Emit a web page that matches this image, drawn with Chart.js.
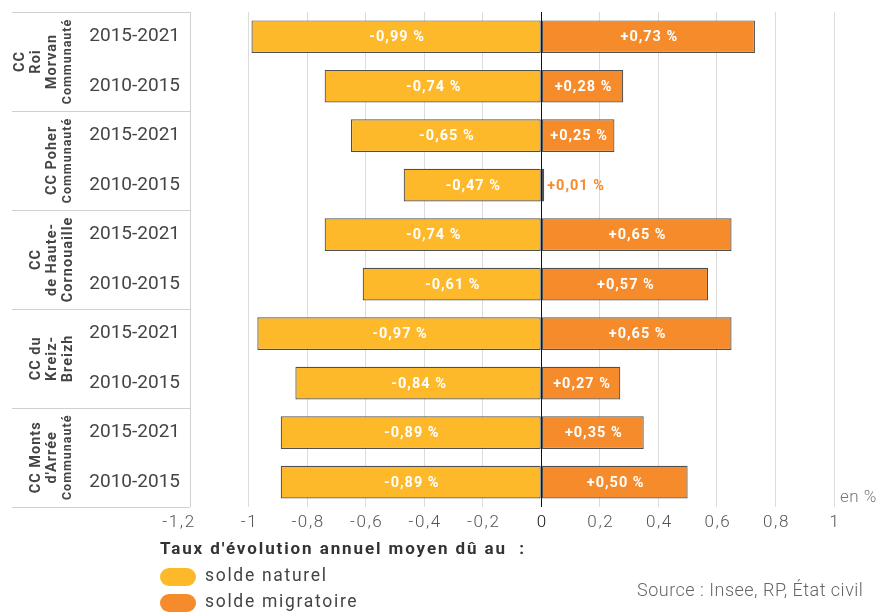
<!DOCTYPE html>
<html>
<head>
<meta charset="utf-8">
<script src="https://cdn.jsdelivr.net/npm/chart.js@4"></script>
<style>
  html, body { margin: 0; padding: 0; background: #fff; }
  #wrap { width: 880px; height: 614px; }
</style>
</head>
<body>
<div id="wrap"><canvas id="evolChart" width="880" height="614"></canvas></div>
<script>
// periods, one row each, grouped two by two per territory
const periods = ['2015-2021', '2010-2015', '2015-2021', '2010-2015', '2015-2021',
  '2010-2015', '2015-2021', '2010-2015', '2015-2021', '2010-2015'];
// '*' marks the small second-level line
const groups = [
  ['CC', 'Roi', 'Morvan', '*Communauté'],
  ['CC Poher', '*Communauté'],
  ['CC', 'de Haute-', 'Cornouaille'],
  ['CC du', 'Kreiz-', 'Breizh'],
  ['CC Monts', "d'Arrée", '*Communauté'],
];
const soldeNaturel = [-0.99, -0.74, -0.65, -0.47, -0.74, -0.61, -0.97, -0.84, -0.89, -0.89];
const soldeMigratoire = [0.73, 0.28, 0.25, 0.01, 0.65, 0.57, 0.65, 0.27, 0.35, 0.50];
const xTicks = [-1.2, -1, -0.8, -0.6, -0.4, -0.2, 0, 0.2, 0.4, 0.6, 0.8, 1];

const YELLOW = '#FDB92A';
const ORANGE = '#F68B2B';
const FONT = 'Roboto';

function fmt(v) {
  const s = Math.abs(v).toFixed(2).replace('.', ',');
  return (v < 0 ? '-' : '+') + s + ' %';
}

function spaced(ctx, px) {
  if ('letterSpacing' in ctx) ctx.letterSpacing = px + 'px';
}

const barLabels = {
  id: 'barLabels',
  afterDatasetsDraw(chart) {
    const ctx = chart.ctx;
    ctx.save();
    ctx.font = 'bold 14.5px ' + FONT;
    spaced(ctx, 1);
    ctx.textBaseline = 'middle';
    chart.data.datasets.forEach((ds, di) => {
      const meta = chart.getDatasetMeta(di);
      meta.data.forEach((el, i) => {
        const { x, y, base } = el.getProps(['x', 'y', 'base'], true);
        const w = Math.abs(x - base);
        if (w < 30) {
          ctx.fillStyle = ds.backgroundColor;
          ctx.textAlign = 'left';
          ctx.fillText(fmt(ds.data[i]), Math.max(x, base) + 3, y + 1);
        } else {
          ctx.fillStyle = '#fff';
          ctx.textAlign = 'center';
          ctx.fillText(fmt(ds.data[i]), (x + base) / 2 + 1, y + 1);
        }
      });
    });
    ctx.restore();
  }
};

const decor = {
  id: 'decor',
  afterDraw(chart) {
    const ctx = chart.ctx;
    const area = chart.chartArea;
    const xScale = chart.scales.x;
    const rowH = (area.bottom - area.top) / periods.length;
    ctx.save();
    // table lines on the left
    ctx.strokeStyle = '#d0d0d0';
    ctx.lineWidth = 1;
    for (let g = 0; g <= groups.length; g++) {
      const yy = Math.round(area.top + g * rowH * 2) + 0.5;
      ctx.beginPath();
      ctx.moveTo(12, yy);
      ctx.lineTo(area.left, yy);
      ctx.stroke();
    }
    // group names, rotated; last line sits at x = 67
    groups.forEach((lines, g) => {
      const cy = area.top + (g * 2 + 1) * rowH;
      ctx.save();
      ctx.translate(0, cy);
      ctx.rotate(-Math.PI / 2);
      ctx.fillStyle = '#444';
      ctx.textAlign = 'center';
      ctx.textBaseline = 'middle';
      const n = lines.length;
      lines.forEach((l, k) => {
        const small = l[0] === '*';
        ctx.font = 'bold ' + (small ? 12.5 : 14.5) + 'px ' + FONT;
        spaced(ctx, 1);
        const pos = 67 - (n - 1 - k) * 16;
        ctx.fillText(l.replace('*', ''), 0, pos + 1);
      });
      ctx.restore();
    });
    // x tick labels
    ctx.textAlign = 'center';
    ctx.textBaseline = 'middle';
    ctx.font = '300 17px ' + FONT;
    spaced(ctx, 1.6);
    xTicks.forEach((v, i) => {
      ctx.fillStyle = v === 0 ? '#111' : '#555';
      const label = String(v).replace('.', ',');
      const shift = i === 0 ? -12 : 0;
      ctx.fillText(label, xScale.getPixelForValue(v) + 1 + shift, area.bottom + 16);
    });
    // unit
    ctx.fillStyle = '#777';
    ctx.font = '300 17px ' + FONT;
    spaced(ctx, 0.5);
    ctx.textAlign = 'left';
    ctx.fillText('en %', area.right + 6, area.bottom - 9);
    // title + legend
    ctx.fillStyle = '#333';
    ctx.font = 'bold 17px ' + FONT;
    spaced(ctx, 1.9);
    ctx.fillText("Taux d'évolution annuel moyen dû au  :", 160, 550);
    chart.data.datasets.forEach((ds, di) => {
      const ly = 577 + di * 26;
      ctx.fillStyle = ds.backgroundColor;
      ctx.beginPath();
      ctx.roundRect(160, ly - 9, 36, 18, 9);
      ctx.fill();
      ctx.fillStyle = '#444';
      ctx.font = '17.5px ' + FONT;
      spaced(ctx, 1.7);
      ctx.fillText(ds.label, 205, ly);
    });
    ctx.fillStyle = '#666';
    ctx.font = '300 18px ' + FONT;
    spaced(ctx, 0.5);
    ctx.textAlign = 'left';
    ctx.fillText('Source : Insee, RP, État civil', 637, 591);
    ctx.restore();
  }
};

const ctx = document.getElementById('evolChart').getContext('2d');
new Chart(ctx, {
  type: 'bar',
  data: {
    labels: periods,
    datasets: [
      {
        label: 'solde naturel',
        data: soldeNaturel,
        backgroundColor: YELLOW,
        borderColor: '#505050',
        borderWidth: 1.2,
        borderSkipped: false,
        barPercentage: 0.66,
        categoryPercentage: 1,
      },
      {
        label: 'solde migratoire',
        data: soldeMigratoire,
        backgroundColor: ORANGE,
        borderColor: '#505050',
        borderWidth: 1.2,
        borderSkipped: false,
        barPercentage: 0.66,
        categoryPercentage: 1,
      },
    ],
  },
  options: {
    indexAxis: 'y',
    responsive: false,
    animation: false,
    layout: { padding: { top: 12, right: 46, bottom: 72, left: 0 } },
    plugins: {
      legend: { display: false },
      tooltip: { enabled: false },
    },
    scales: {
      x: {
        stacked: true,
        min: -1.2,
        max: 1,
        afterBuildTicks: scale => { scale.ticks = xTicks.map(v => ({ value: v })); },
        grid: {
          color: c => c.tick && c.tick.value === 0 ? '#111' : '#dcdcdc',
          drawTicks: false,
        },
        border: { display: false },
        ticks: {
          padding: 8,
          color: 'rgba(0,0,0,0)',
          font: { family: FONT, size: 16, weight: '300' },
          callback: v => String(v).replace('.', ','),
        },
      },
      y: {
        stacked: true,
        afterFit: scale => {
          scale.width = 190;
          scale.paddingTop = 0;
          scale.paddingBottom = 0;
        },
        grid: { display: false, drawTicks: false },
        border: { display: true, color: '#d0d0d0' },
        ticks: {
          padding: 10,
          color: '#444',
          font: { family: FONT, size: 19 },
        },
      },
    },
  },
  plugins: [barLabels, decor],
});
</script>
</body>
</html>
